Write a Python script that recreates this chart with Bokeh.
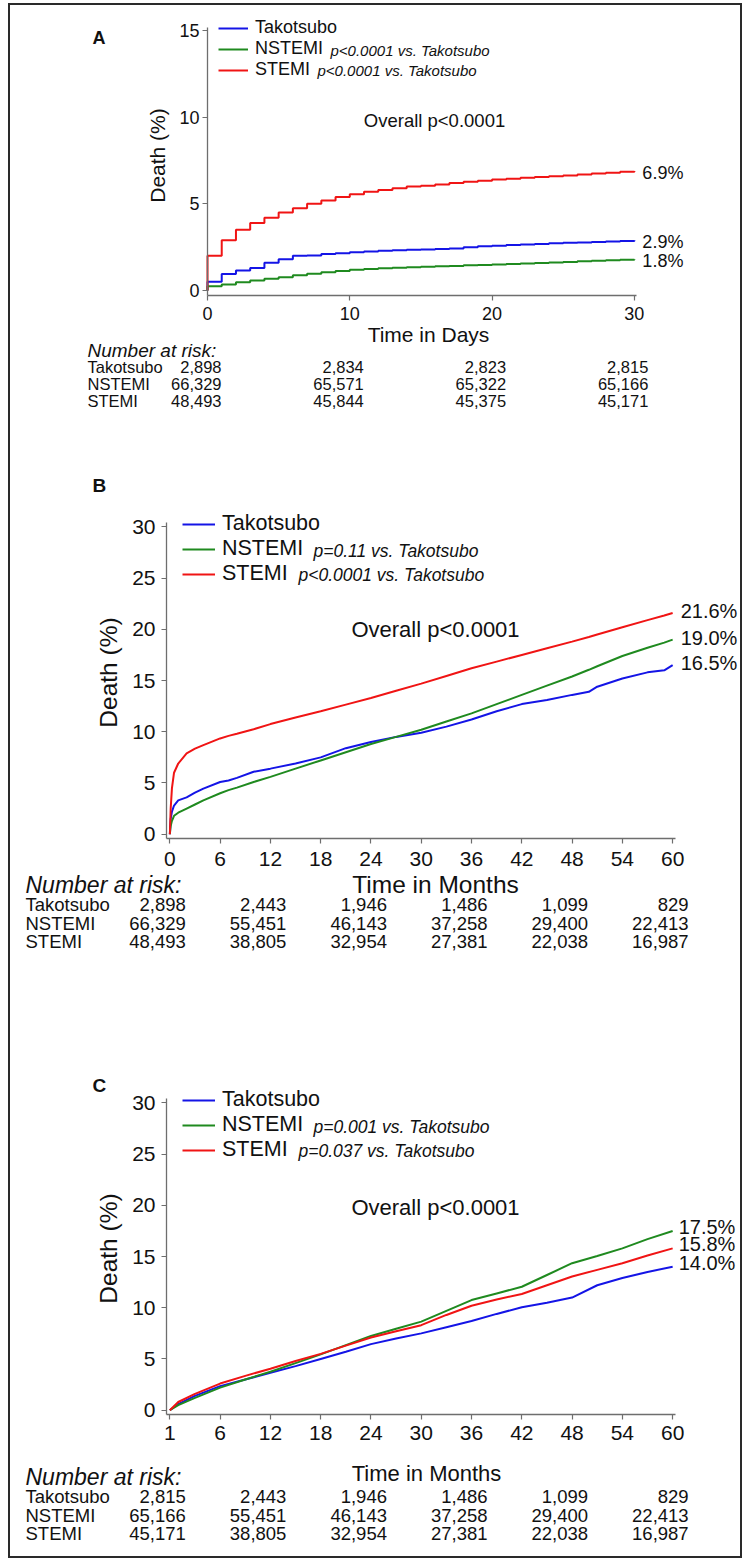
import math
from bokeh.plotting import figure
from bokeh.models import Range1d, FixedTicker, Label, Legend, LegendItem
from bokeh.layouts import column
from bokeh.embed import file_html
from bokeh.resources import INLINE

FONT = "Liberation Sans"
BLUE, GREEN, RED = "#1414e6", "#1f8a1f", "#f01414"
AXIS = "#6e6e6e"
INK = "#111111"

groups = ["Takotsubo", "NSTEMI", "STEMI"]
colors = [BLUE, GREEN, RED]

# ---------------- Panel A: 30-day mortality (days) ----------------
a_days = list(range(0, 31))
a_tako = [0.5, 0.95, 1.15, 1.3, 1.6, 1.8, 2.0, 2.02, 2.1, 2.15, 2.2, 2.25, 2.3, 2.32, 2.35, 2.37,
          2.4, 2.42, 2.5, 2.55, 2.58, 2.62, 2.65, 2.68, 2.72, 2.75, 2.77, 2.8, 2.82, 2.86, 2.9]
a_nstemi = [0.25, 0.35, 0.48, 0.58, 0.68, 0.77, 0.88, 0.97, 1.05, 1.12, 1.2, 1.24, 1.28, 1.31, 1.34,
            1.37, 1.4, 1.42, 1.45, 1.47, 1.5, 1.53, 1.56, 1.59, 1.62, 1.65, 1.68, 1.71, 1.74, 1.77, 1.8]
a_stemi = [2.0, 2.9, 3.5, 3.9, 4.2, 4.5, 4.75, 5.0, 5.2, 5.4, 5.55, 5.7, 5.8, 5.9, 6.0, 6.05, 6.12,
           6.2, 6.27, 6.33, 6.4, 6.45, 6.5, 6.55, 6.6, 6.64, 6.7, 6.75, 6.8, 6.85, 6.9]
a_xticks = [0, 10, 20, 30]
a_yticks = [0, 5, 10, 15]
a_risk_times = [0, 10, 20, 30]
a_risk_tako = ["2,898", "2,834", "2,823", "2,815"]
a_risk_nstemi = ["66,329", "65,571", "65,322", "65,166"]
a_risk_stemi = ["48,493", "45,844", "45,375", "45,171"]
a_pvals = ["", "p<0.0001 vs. Takotsubo", "p<0.0001 vs. Takotsubo"]

# ---------------- Panel B: 5-year mortality (months) ----------------
b_months = [0, 0.1, 0.25, 0.5, 1, 2, 3, 4, 6, 7, 8, 10, 12, 15, 18, 21, 24, 27, 30, 33, 36, 39, 42,
            45, 48, 50, 51, 54, 57, 59, 60]
b_tako = [0, 1.5, 2.2, 2.8, 3.3, 3.6, 4.05, 4.45, 5.1, 5.25, 5.5, 6.1, 6.4, 6.9, 7.5, 8.4, 9.0, 9.5,
          9.9, 10.5, 11.2, 12.0, 12.7, 13.1, 13.6, 13.9, 14.4, 15.2, 15.8, 16.0, 16.5]
b_nstemi = [0, 0.8, 1.3, 1.8, 2.1, 2.5, 2.9, 3.3, 4.0, 4.3, 4.55, 5.1, 5.6, 6.4, 7.2, 8.0, 8.8, 9.5,
            10.2, 11.0, 11.8, 12.7, 13.6, 14.5, 15.4, 16.05, 16.4, 17.4, 18.2, 18.7, 19.0]
b_stemi = [0, 2.5, 4.5, 6.0, 6.9, 7.9, 8.35, 8.7, 9.35, 9.6, 9.8, 10.25, 10.75, 11.4, 12.0, 12.65,
           13.3, 14.0, 14.7, 15.45, 16.2, 16.85, 17.5, 18.15, 18.8, 19.25, 19.5, 20.2, 20.9, 21.35, 21.6]
b_xticks = [0, 6, 12, 18, 24, 30, 36, 42, 48, 54, 60]
b_xtick_labels = ["0", "6", "12", "18", "24", "30", "36", "42", "48", "54", "60"]
b_yticks = [0, 5, 10, 15, 20, 25, 30]
b_risk_times = [0, 12, 24, 36, 48, 60]
b_risk_tako = ["2,898", "2,443", "1,946", "1,486", "1,099", "829"]
b_risk_nstemi = ["66,329", "55,451", "46,143", "37,258", "29,400", "22,413"]
b_risk_stemi = ["48,493", "38,805", "32,954", "27,381", "22,038", "16,987"]
b_pvals = ["", "p=0.11 vs. Takotsubo", "p<0.0001 vs. Takotsubo"]

# ---------------- Panel C: landmark from 30 days (months) ----------------
c_months = [0, 1, 3, 6, 9, 12, 15, 18, 21, 24, 27, 30, 33, 36, 39, 42, 45, 48, 51, 54, 57, 60]
c_tako = [0, 0.6, 1.4, 2.35, 3.0, 3.65, 4.3, 5.0, 5.7, 6.45, 7.0, 7.5, 8.1, 8.7, 9.4, 10.05, 10.5,
          11.0, 12.2, 12.9, 13.5, 14.0]
c_nstemi = [0, 0.5, 1.2, 2.2, 3.0, 3.75, 4.6, 5.45, 6.35, 7.25, 7.95, 8.65, 9.7, 10.75, 11.4, 12.05,
            13.2, 14.35, 15.05, 15.8, 16.7, 17.5]
c_stemi = [0, 0.8, 1.6, 2.6, 3.35, 4.05, 4.8, 5.5, 6.3, 7.1, 7.7, 8.3, 9.3, 10.2, 10.8, 11.35, 12.2,
           13.05, 13.7, 14.35, 15.1, 15.8]
c_xticks = [0, 6, 12, 18, 24, 30, 36, 42, 48, 54, 60]
c_xtick_labels = ["1", "6", "12", "18", "24", "30", "36", "42", "48", "54", "60"]
c_yticks = [0, 5, 10, 15, 20, 25, 30]
c_risk_times = [0, 12, 24, 36, 48, 60]
c_risk_tako = ["2,815", "2,443", "1,946", "1,486", "1,099", "829"]
c_risk_nstemi = ["65,166", "55,451", "46,143", "37,258", "29,400", "22,413"]
c_risk_stemi = ["45,171", "38,805", "32,954", "27,381", "22,038", "16,987"]
c_pvals = ["", "p=0.001 vs. Takotsubo", "p=0.037 vs. Takotsubo"]

overall_text = "Overall p<0.0001"

# Page-pixel geometry: axis box (L,T,W,H) with its data extents, and the figure box.
PAGE_L, PAGE_R = 10, 740
geoA = dict(L=207, T=27, W=429, H=268, x0=0, x1=30.15, y0=-0.29, y1=15.18, top=5, height=435)
geoB = dict(L=166, T=522, W=509, H=316, x0=-0.4, x1=60.34, y0=-0.42, y1=30.43, top=440, height=560)
geoC = dict(L=166, T=1098, W=509, H=316, x0=-0.4, x1=60.34, y0=-0.42, y1=30.43, top=1000, height=556)


def kx(g):
    return g["W"] / (g["x1"] - g["x0"])


def ky(g):
    return g["H"] / (g["y1"] - g["y0"])


def dx(g, px):
    return g["x0"] + (px - g["L"]) / kx(g)


def dy(g, py):
    return g["y1"] - (py - g["T"]) / ky(g)


def make_fig(g):
    p = figure(frame_width=PAGE_R - PAGE_L, frame_height=g["height"],
               x_range=Range1d(dx(g, PAGE_L), dx(g, PAGE_R)),
               y_range=Range1d(dy(g, g["top"] + g["height"]), dy(g, g["top"])),
               min_border=0, output_backend="svg", toolbar_location=None)
    p.xgrid.visible = False
    p.ygrid.visible = False
    p.outline_line_color = None
    p.background_fill_color = "white"
    p.border_fill_color = "white"
    return p


def style_axes(p, g, xticks, yticks, tick_fs, xt_so, yt_so, overrides=None):
    p.xaxis.ticker = FixedTicker(ticks=xticks)
    p.yaxis.ticker = FixedTicker(ticks=yticks)
    if overrides:
        p.xaxis.major_label_overrides = overrides
    p.xaxis.fixed_location = g["y0"]
    p.yaxis.fixed_location = g["x0"]
    p.xaxis.bounds = (g["x0"], g["x1"])
    p.yaxis.bounds = (g["y0"], g["y1"])
    for ax in (p.xaxis[0], p.yaxis[0]):
        ax.axis_line_color = AXIS
        ax.axis_line_width = 1.3
        ax.major_tick_line_color = AXIS
        ax.major_tick_line_width = 1.2
        ax.major_tick_in = 0
        ax.major_tick_out = 5
        ax.minor_tick_line_color = None
        ax.major_label_text_font = FONT
        ax.major_label_text_font_size = tick_fs
        ax.major_label_text_color = INK
    p.xaxis.major_label_standoff = xt_so
    p.yaxis.major_label_standoff = yt_so


def txt(p, g, px, py, text, size, align="left", style="normal", angle=0.0):
    p.add_layout(Label(x=dx(g, px), y=dy(g, py), text=text, text_font=FONT,
                       text_font_size=size, text_align=align, text_baseline="middle",
                       text_font_style=style, text_color=INK, angle=angle))


def add_legend(p, g, renderers, left_px, bottom_px, gw, gh, fs):
    loc = (left_px - PAGE_L, g["top"] + g["height"] - bottom_px)
    leg = Legend(items=[LegendItem(label=n, renderers=[r]) for n, r in zip(groups, renderers)],
                 location=loc, background_fill_alpha=0, border_line_color=None,
                 padding=0, margin=0, spacing=0, glyph_width=gw, glyph_height=gh,
                 label_height=gh, label_standoff=7, label_text_font=FONT,
                 label_text_font_size=fs, label_text_color=INK)
    p.add_layout(leg)


def add_table(p, g, times, rows, nar_px, nar_py, nar_fs, row_pys, row_fs, num_dx):
    txt(p, g, nar_px, nar_py, "Number at risk:", nar_fs, style="italic")
    for name, vals, py in zip(groups, rows, row_pys):
        txt(p, g, nar_px, py, name, row_fs)
        for t, v in zip(times, vals):
            p.add_layout(Label(x=t, y=dy(g, py), x_offset=num_dx, text=v, text_font=FONT,
                               text_font_size=row_fs, text_align="right",
                               text_baseline="middle", text_color=INK))


def add_end_labels(p, t_end, series, fs, xoff, yoff):
    for s in series:
        p.add_layout(Label(x=t_end, y=s[-1], x_offset=xoff, y_offset=yoff, text=f"{s[-1]:.1f}%",
                           text_font=FONT, text_font_size=fs, text_align="left",
                           text_baseline="middle", text_color=INK))


# ---------------- build panel A ----------------
pA = make_fig(geoA)
rA = []
for ser, c in zip([a_tako, a_nstemi, a_stemi], colors):
    rA.append(pA.step([0] + a_days, [0] + ser, mode="after", line_color=c, line_width=2))
style_axes(pA, geoA, a_xticks, a_yticks, "18px", 6, 3)
add_legend(pA, geoA, rA, 218, 80, 30, 20, "18px")
txt(pA, geoA, 92, 37, "A", "18px", style="bold")
txt(pA, geoA, 434, 120, overall_text, "18.5px", align="center")
txt(pA, geoA, 330, 50, a_pvals[1], "15px", style="italic")
txt(pA, geoA, 317, 70, a_pvals[2], "15px", style="italic")
txt(pA, geoA, 157, 155, "Death (%)", "21px", align="center", angle=math.pi / 2)
txt(pA, geoA, 428, 334, "Time in Days", "21px", align="center")
add_end_labels(pA, a_days[-1], [a_stemi, a_tako, a_nstemi], "18px", 8, -2)
add_table(pA, geoA, a_risk_times, [a_risk_tako, a_risk_nstemi, a_risk_stemi],
          87, 349.5, "19px", [366.5, 383.5, 400], "16.5px", 14)

# ---------------- build panel B ----------------
pB = make_fig(geoB)
rB = []
for ser, c in zip([b_tako, b_nstemi, b_stemi], colors):
    rB.append(pB.line(b_months, ser, line_color=c, line_width=2))
style_axes(pB, geoB, b_xticks, b_yticks, "21px", 8, 6, dict(zip(b_xticks, b_xtick_labels)))
add_legend(pB, geoB, rB, 182, 586, 33, 24, "21.5px")
txt(pB, geoB, 92, 485, "B", "19px", style="bold")
txt(pB, geoB, 435, 629, overall_text, "22px", align="center")
txt(pB, geoB, 313, 550, b_pvals[1], "17.5px", style="italic")
txt(pB, geoB, 298, 574, b_pvals[2], "17.5px", style="italic")
txt(pB, geoB, 108, 672, "Death (%)", "24.5px", align="center", angle=math.pi / 2)
txt(pB, geoB, 435, 884, "Time in Months", "24.5px", align="center")
add_end_labels(pB, b_months[-1], [b_stemi, b_nstemi, b_tako], "20px", 8, 2)
add_table(pB, geoB, b_risk_times, [b_risk_tako, b_risk_nstemi, b_risk_stemi],
          25, 884, "23px", [904, 923, 941], "18.5px", 16)

# ---------------- build panel C ----------------
pC = make_fig(geoC)
rC = []
for ser, c in zip([c_tako, c_nstemi, c_stemi], colors):
    rC.append(pC.line(c_months, ser, line_color=c, line_width=2))
style_axes(pC, geoC, c_xticks, c_yticks, "21px", 6, 6, dict(zip(c_xticks, c_xtick_labels)))
add_legend(pC, geoC, rC, 182, 1162, 33, 24, "21.5px")
txt(pC, geoC, 92, 1085, "C", "19px", style="bold")
txt(pC, geoC, 435, 1207, overall_text, "22px", align="center")
txt(pC, geoC, 313, 1126, c_pvals[1], "17.5px", style="italic")
txt(pC, geoC, 298, 1150, c_pvals[2], "17.5px", style="italic")
txt(pC, geoC, 108, 1248, "Death (%)", "24.5px", align="center", angle=math.pi / 2)
txt(pC, geoC, 426, 1473, "Time in Months", "22px", align="center")
add_end_labels(pC, c_months[-1], [c_nstemi, c_stemi, c_tako], "20px", 6, 4)
add_table(pC, geoC, c_risk_times, [c_risk_tako, c_risk_nstemi, c_risk_stemi],
          25, 1476, "23px", [1496, 1515, 1533], "18.5px", 16)

layout = column(pA, pB, pC, margin=(3, 0, 0, 8), styles={"border": "2px solid #2a2a2a"})
open("out.html", "w").write(file_html(layout, INLINE))
